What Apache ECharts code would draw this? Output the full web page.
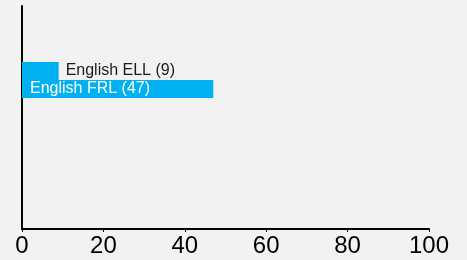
<!DOCTYPE html>
<html lang="en">
<head>
    <meta charset="UTF-8">
    <title>English bars</title>
    <script src="https://cdn.jsdelivr.net/npm/echarts@6/dist/echarts.min.js"></script>
    <style>
        html, body { margin: 0; padding: 0; background: #f2f2f2; }
    </style>
</head>
<body>
<div id="main" style="width: 467px; height: 260px;"></div>
<script>
    var categories = ['English ELL', 'English FRL'];
    var values = [9, 47];
    var xTicks = [0, 20, 40, 60, 80, 100];

    var myChart = echarts.init(document.getElementById('main'));

    // short bars get their label outside, long ones inside (white)
    var barData = values.map(function (v) {
        var inside = v > 20;
        return {
            value: v,
            label: {
                position: inside ? 'insideLeft' : 'right',
                distance: inside ? 8 : 7,
                color: inside ? '#ffffff' : '#1a1a1a'
            }
        };
    });

    var option = {
        backgroundColor: '#f2f2f2',
        animation: false,
        grid: [
            {left: 22, right: 38, top: 6, bottom: 31},
            {left: 22, right: 38, top: 62, height: 36}
        ],
        xAxis: [
            {
                gridIndex: 0,
                type: 'value',
                min: xTicks[0],
                max: xTicks[xTicks.length - 1],
                interval: 20,
                splitLine: {show: false},
                axisLine: {show: true, lineStyle: {color: '#000', width: 2}},
                axisTick: {show: true, length: 3, lineStyle: {color: '#000', width: 1}},
                axisLabel: {
                    color: '#000',
                    fontSize: 24,
                    fontFamily: 'Liberation Sans, Arial, sans-serif',
                    margin: 5
                }
            },
            {
                gridIndex: 1,
                type: 'value',
                min: 0,
                max: 100,
                show: false
            }
        ],
        yAxis: [
            {
                gridIndex: 0,
                type: 'value',
                axisLine: {show: true, lineStyle: {color: '#000', width: 2}},
                axisTick: {show: false},
                axisLabel: {show: false},
                splitLine: {show: false}
            },
            {
                gridIndex: 1,
                type: 'category',
                inverse: true,
                data: categories,
                show: false
            }
        ],
        series: [
            {
                type: 'bar',
                xAxisIndex: 1,
                yAxisIndex: 1,
                barWidth: '100%',
                itemStyle: {color: '#00b0f0'},
                label: {
                    show: true,
                    formatter: '{b} ({c})',
                    fontSize: 16,
                    fontFamily: 'Liberation Sans, Arial, sans-serif'
                },
                data: barData
            }
        ]
    };
    myChart.setOption(option);
</script>
</body>
</html>
